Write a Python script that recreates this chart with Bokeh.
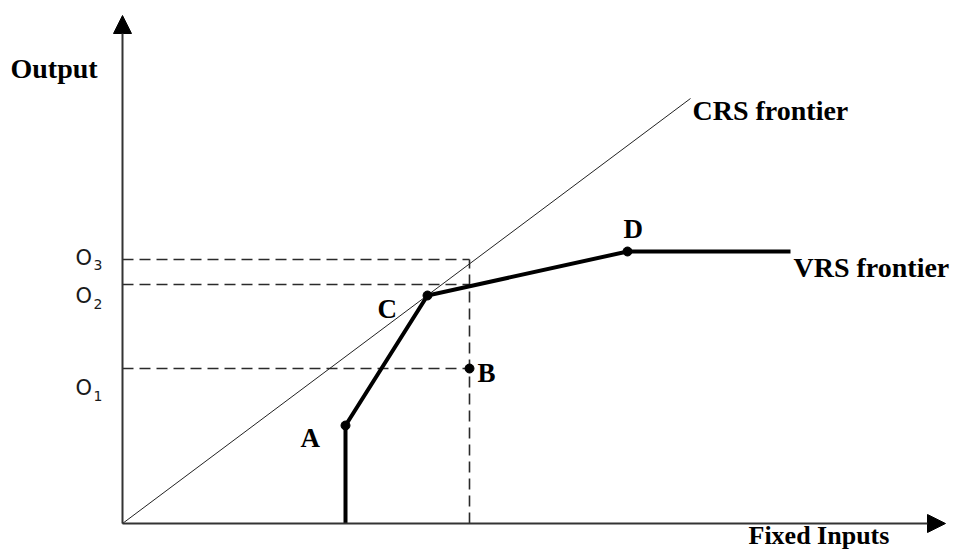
from bokeh.plotting import figure
from bokeh.models import Range1d, Arrow, NormalHead, ColumnDataSource
from bokeh.core.properties import value
from bokeh.embed import file_html
from bokeh.resources import INLINE

# ---- data (diagram units: origin at the axes corner) ----
vrs_x = [223, 223, 305, 505, 668]
vrs_y = [0, 98, 228, 272, 272]
crs_x = [0, 568]
crs_y = [0, 425]
point_names = ["A", "B", "C", "D"]
point_x = [223, 347, 305, 505]
point_y = [98, 155, 228, 272]
o_levels = [155, 239, 264]          # O1, O2, O3
o_names = ["O", "O", "O"]
o_subs = ["1", "2", "3"]
b_input = 347                      # input level of firm B
x_axis_end = 823
y_axis_end = 508

label_x = [178, 355, 255, 501]
label_y = [86, 151, 215, 295]

SERIF = value("Liberation Serif")
SANS = value("DejaVu Sans")

p = figure(width=957, height=554, output_backend="svg", toolbar_location=None,
           x_range=Range1d(-122, 835), y_range=Range1d(-31, 523),
           min_border=0, outline_line_color=None)
p.axis.visible = False
p.grid.visible = False
p.background_fill_color = "white"
p.border_fill_color = "white"

# axes with arrows
p.add_layout(Arrow(end=NormalHead(size=18, fill_color="black", line_color="black"),
                   x_start=0, y_start=0, x_end=x_axis_end, y_end=0,
                   line_width=2, line_color="#333333"))
p.add_layout(Arrow(end=NormalHead(size=18, fill_color="black", line_color="black"),
                   x_start=0, y_start=0, x_end=0, y_end=y_axis_end,
                   line_width=2, line_color="#333333"))

# dashed reference lines
for lvl in o_levels:
    p.line([0, b_input], [lvl, lvl], line_dash="11 6", line_color="#2a2a2a", line_width=1.6)
p.line([b_input, b_input], [0, max(o_levels)], line_dash="11 6", line_color="#2a2a2a", line_width=1.6)

# CRS frontier
p.line(crs_x, crs_y, line_color="#222222", line_width=1)
# VRS frontier
p.line(vrs_x, vrs_y, line_color="black", line_width=4, line_join="miter")

# points
p.scatter(point_x, point_y, size=9, color="black")

# point labels
src = ColumnDataSource(dict(x=label_x, y=label_y, t=point_names))
p.text("x", "y", text="t", source=src, text_font=SERIF, text_font_size="27px",
       text_font_style="bold", text_color="black", text_baseline="alphabetic")

# frontier labels
p.text([crs_x[1] + 2], [413], text=["CRS frontier"], text_font=SERIF, text_font_size="28px",
       text_font_style="bold", text_color="black", text_baseline="alphabetic")
p.text([vrs_x[-1] + 3], [256], text=["VRS frontier"], text_font=SERIF, text_font_size="28px",
       text_font_style="bold", text_color="black", text_baseline="alphabetic")

# axis titles
p.text([-112], [455], text=["Output"], text_font=SERIF, text_font_size="28px",
       text_font_style="bold", text_color="black", text_baseline="alphabetic")
p.text([626], [-12], text=["Fixed Inputs"], text_font=SERIF, text_font_size="26px",
       text_font_style="bold", text_color="black", text_baseline="alphabetic")

# O level labels with subscripts
o_label_y = [136, 228, 266]
o_sub_y = [128, 220, 259]
p.text([-47] * 3, o_label_y, text=o_names, text_font=SANS, text_font_size="21px",
       text_color="#1a1a1a", text_baseline="alphabetic")
p.text([-29] * 3, o_sub_y, text=o_subs, text_font=SANS, text_font_size="14px",
       text_color="#1a1a1a", text_baseline="alphabetic")

open("out.html", "w").write(file_html(p, INLINE))
